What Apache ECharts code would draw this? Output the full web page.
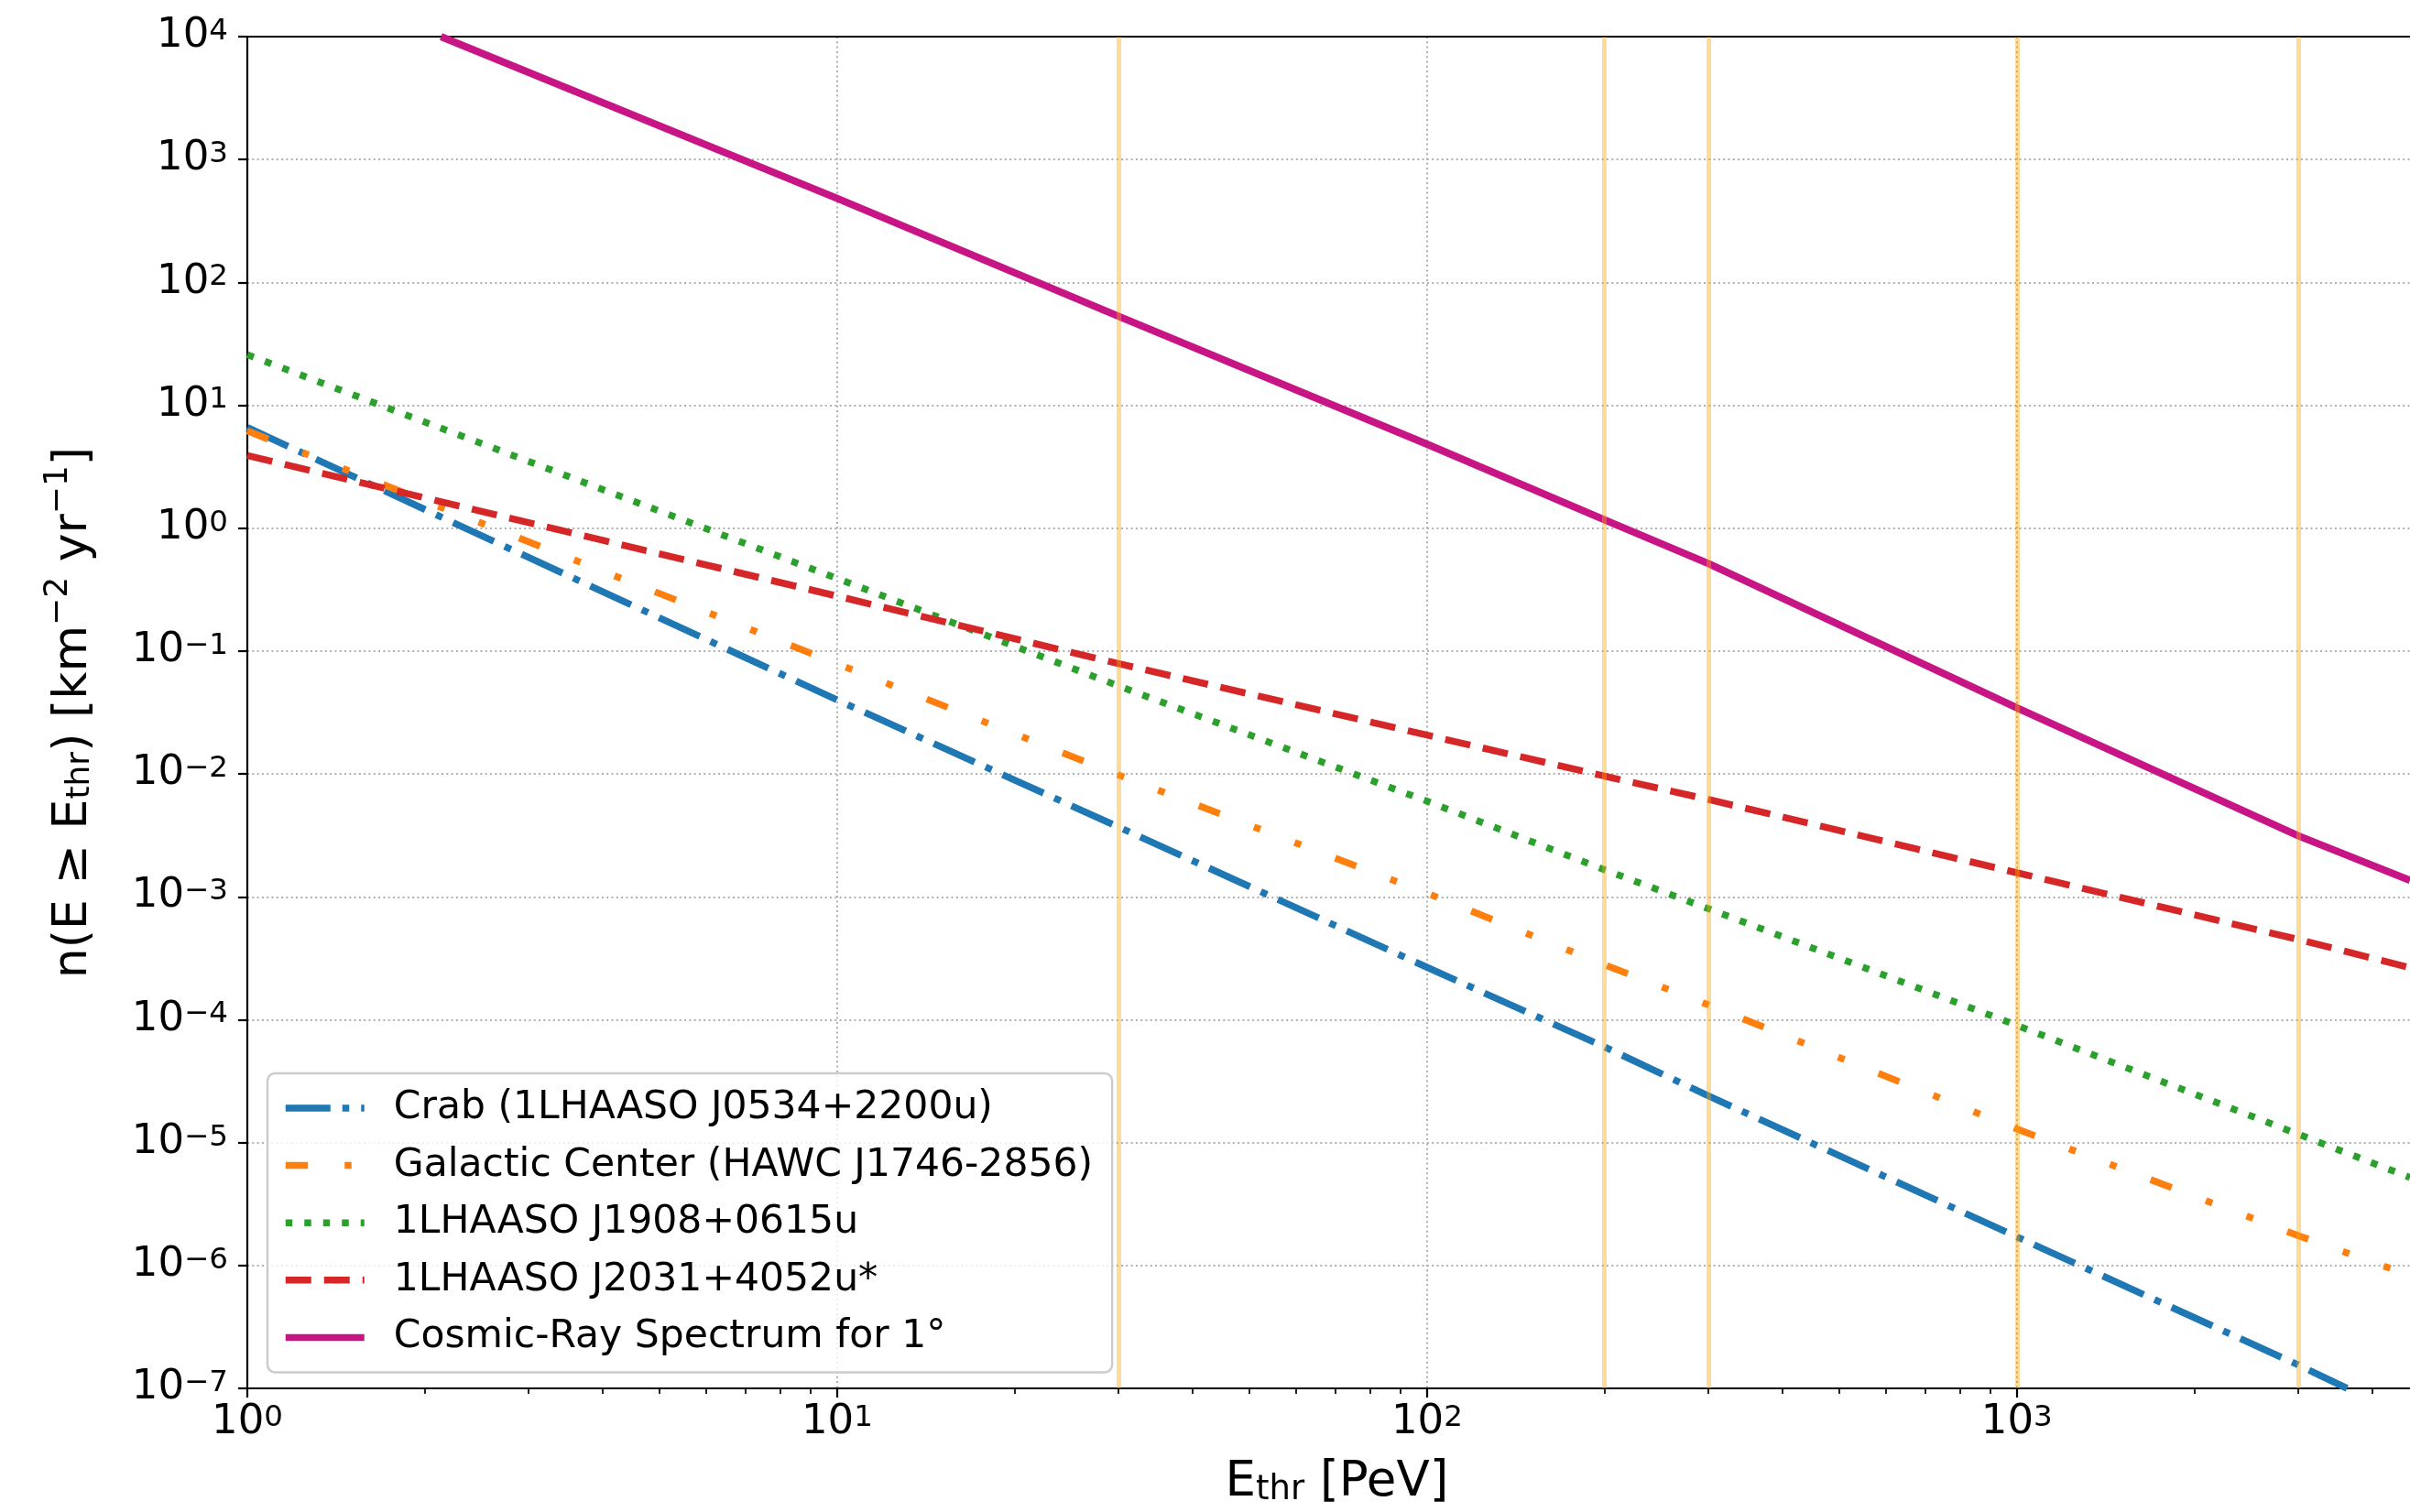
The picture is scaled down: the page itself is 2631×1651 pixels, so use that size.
<!DOCTYPE html>
<html>
<head>
<meta charset="utf-8">
<script src="https://cdn.jsdelivr.net/npm/echarts@6/dist/echarts.min.js"></script>
<style>
html,body{margin:0;padding:0;background:#fff;}
#chart{width:2631px;height:1651px;}
</style>
</head>
<body>
<div id="chart"></div>
<script>
// ---------------- data ----------------
const sourceEnergy = [1, 10, 30, 100, 200, 300, 1000, 3000, 4640];          // PeV
const crabEnergy   = [1, 10, 30, 100, 200, 300, 1000, 3000, 3630];
const crabRate     = [6.6, 0.040, 0.0037, 2.67e-4, 6.0e-5, 2.4e-5, 1.71e-6, 1.55e-7, 1.0e-7];
const gcRate       = [6.2, 0.079, 0.0098, 1.07e-3, 2.8e-4, 1.32e-4, 1.29e-5, 1.75e-6, 8.3e-7];
const j1908Rate    = [25.8, 0.39, 0.052, 6.0e-3, 1.66e-3, 8.0e-4, 9.0e-5, 1.17e-5, 5.2e-6];
const j2031Rate    = [3.9, 0.28, 0.079, 0.0207, 9.6e-3, 6.2e-3, 1.57e-3, 4.5e-4, 2.65e-4];
const crEnergy     = [2.13, 10, 30, 100, 200, 300, 1000, 3000, 4640];
const crRate       = [1e4, 483, 53, 4.83, 1.17, 0.515, 0.0345, 0.00314, 0.00136];
const thresholdLines = [30, 200, 300, 1000, 3000];

const seriesNames = [
  'Crab (1LHAASO J0534+2200u)',
  'Galactic Center (HAWC J1746-2856)',
  '1LHAASO J1908+0615u',
  '1LHAASO J2031+4052u*',
  'Cosmic-Ray Spectrum for 1°'
];
const xMajorTicks = [1, 10, 100, 1000];
const xMinorTicks = [2, 3, 4, 5, 6, 7, 8, 9, 20, 30, 40, 50, 60, 70, 80, 90,
                     200, 300, 400, 500, 600, 700, 800, 900, 2000, 3000, 4000];
const yMajorTicks = [1e-7, 1e-6, 1e-5, 1e-4, 1e-3, 1e-2, 1e-1, 1, 10, 100, 1e3, 1e4];
const xMin = 1, xMax = 4640, yMin = 1e-7, yMax = 1e4;

// ---------------- helpers ----------------
const FONT = 'DejaVu Sans';
function zip(xs, ys) { return xs.map((x, i) => [x, ys[i]]); }
function powLabel(v) {
  const e = Math.round(Math.log10(v));
  const s = e < 0 ? '\u2212' + (-e) : String(e);
  return '{b|10}{s|' + s + '}';
}
const tickRich = {
  b: { fontFamily: FONT, fontSize: 45, lineHeight: 44, verticalAlign: 'bottom', color: '#000' },
  s: { fontFamily: FONT, fontSize: 32.5, lineHeight: 17, verticalAlign: 'top', color: '#000' }
};
const gridLine = { show: true, lineStyle: { color: '#b0b0b0', width: 2, type: [2, 3.3] } };
const spine = { color: '#000', width: 2.2 };

function lineSeries(name, data, color, dash, width) {
  return {
    name: name, type: 'line', xAxisIndex: 0, yAxisIndex: 0,
    data: data, symbol: 'none', showSymbol: false, smooth: false, clip: true, z: 2,
    lineStyle: { color: color, width: width, type: dash, cap: 'butt' },
    itemStyle: { color: color },
    emphasis: { disabled: true }
  };
}

const chart = echarts.init(document.getElementById('chart'), null, { renderer: 'canvas' });
chart.setOption({
  animation: false,
  backgroundColor: '#ffffff',
  textStyle: { fontFamily: FONT },
  grid: { left: 270, right: 0, top: 40, bottom: 133, containLabel: false },
  xAxis: [
    {
      type: 'log', logBase: 10, min: xMin, max: xMax, position: 'bottom',
      axisLine: { show: true, onZero: false, lineStyle: spine },
      axisTick: { show: true, length: 10, lineStyle: spine, customValues: xMajorTicks },
      axisLabel: { show: true, customValues: xMajorTicks, margin: 16, formatter: powLabel, rich: tickRich },
      splitLine: gridLine,
      minorTick: { show: false },
      name: '{e|E}{sub|thr}{e| [PeV]}',
      nameLocation: 'middle', nameGap: 70,
      nameTextStyle: {
        fontFamily: FONT, fontSize: 53, color: '#000', padding: [0, 0, 0, 18],
        rich: {
          e: { fontFamily: FONT, fontSize: 53, lineHeight: 60, verticalAlign: 'bottom', color: '#000' },
          sub: { fontFamily: FONT, fontSize: 37, lineHeight: 29, verticalAlign: 'bottom', color: '#000' }
        }
      }
    },
    {
      type: 'log', logBase: 10, min: xMin, max: xMax, position: 'top',
      axisLine: { show: true, onZero: false, lineStyle: spine },
      axisTick: { show: false }, axisLabel: { show: false }, splitLine: { show: false }
    },
    {
      type: 'log', logBase: 10, min: xMin, max: xMax, position: 'bottom',
      axisLine: { show: false },
      axisTick: { show: true, length: 6, lineStyle: { color: '#000', width: 1.7 }, customValues: xMinorTicks },
      axisLabel: { show: false }, splitLine: { show: false }
    }
  ],
  yAxis: [
    {
      type: 'log', logBase: 10, min: yMin, max: yMax, position: 'left',
      axisLine: { show: true, onZero: false, lineStyle: spine },
      axisTick: { show: true, length: 10, lineStyle: spine, customValues: yMajorTicks },
      axisLabel: { show: true, customValues: yMajorTicks, margin: 21, formatter: powLabel, rich: tickRich },
      splitLine: gridLine,
      minorTick: { show: false },
      name: '{e|n(E \u2265 E}{sub|thr}{e|) [km}{sup|\u22122}{e| yr}{sup|\u22121}{e|]}',
      nameLocation: 'middle', nameRotate: 90, nameGap: 164,
      nameTextStyle: {
        fontFamily: FONT, fontSize: 52, color: '#000',
        rich: {
          e: { fontFamily: FONT, fontSize: 52, lineHeight: 60, verticalAlign: 'bottom', color: '#000' },
          sub: { fontFamily: FONT, fontSize: 36, lineHeight: 29, verticalAlign: 'bottom', color: '#000' },
          sup: { fontFamily: FONT, fontSize: 36, lineHeight: 29, verticalAlign: 'top', color: '#000' }
        }
      }
    }
  ],
  legend: {
    show: true, orient: 'vertical', left: 292, top: 1172,
    data: seriesNames, selectedMode: false,
    itemWidth: 86, itemHeight: 16, itemGap: 12.6,
    padding: [13, 21, 13, 16],
    backgroundColor: 'rgba(255,255,255,0.8)',
    borderColor: '#cccccc', borderWidth: 2.5, borderRadius: 8,
    itemStyle: { opacity: 0 },
    lineStyle: { width: 7.5 },
    formatter: function (n) { return '{gap|}{t|' + n + '}'; },
    textStyle: {
      fontFamily: FONT, fontSize: 42.5, color: '#000', lineHeight: 50,
      rich: {
        gap: { width: 27 },
        t: { fontFamily: FONT, fontSize: 42.5, lineHeight: 50, color: '#000' }
      }
    }
  },
  series: [
    lineSeries(seriesNames[0], zip(crabEnergy, crabRate), '#1f77b4', [49, 13, 7.5, 13], 7.5),
    lineSeries(seriesNames[1], zip(sourceEnergy, gcRate), '#ff7f0e', [24.5, 40, 7.5, 40, 7.5, 40], 7.5),
    lineSeries(seriesNames[2], zip(sourceEnergy, j1908Rate), '#2ca02c', [7.5, 13], 7.5),
    lineSeries(seriesNames[3], zip(sourceEnergy, j2031Rate), '#d62728', [28, 14], 7.5),
    lineSeries(seriesNames[4], zip(crEnergy, crRate), '#c71585', 'solid', 8),
    {
      name: 'thresholds', type: 'line', xAxisIndex: 0, yAxisIndex: 0, data: [], z: 3, silent: true,
      markLine: {
        silent: true, animation: false, symbol: ['none', 'none'],
        label: { show: false },
        emphasis: { disabled: true },
        lineStyle: { color: 'rgba(255,165,0,0.4)', width: 5, type: 'solid' },
        data: thresholdLines.map(v => ({ xAxis: v }))
      }
    }
  ]
});
</script>
</body>
</html>
